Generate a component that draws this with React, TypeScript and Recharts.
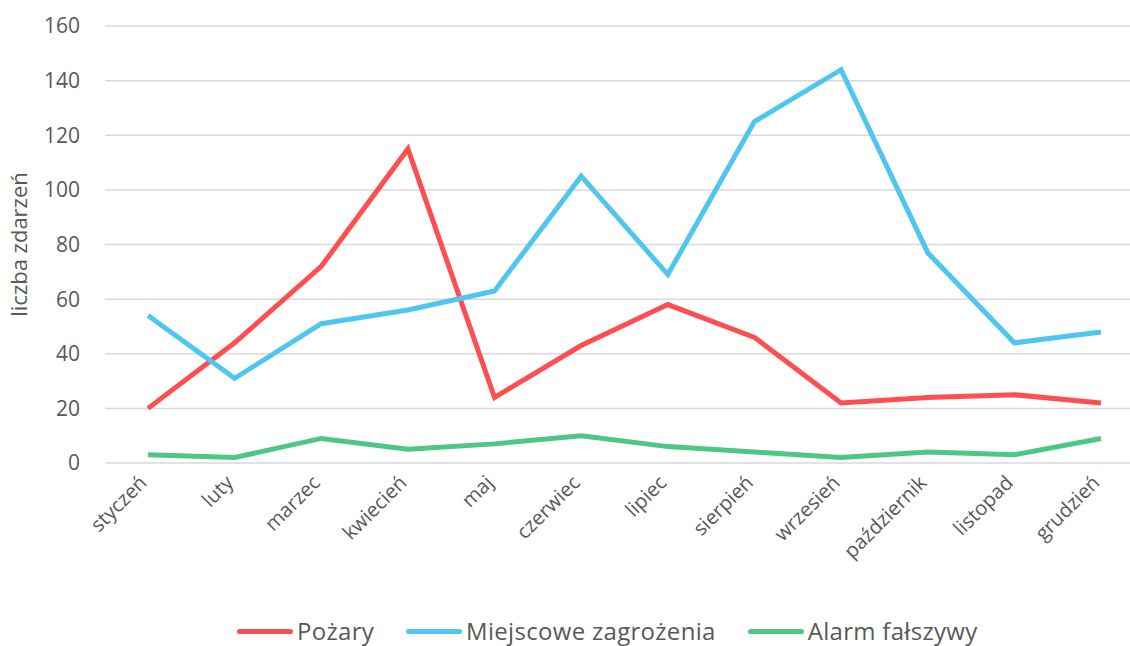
import { LineChart, Line, XAxis, YAxis, CartesianGrid, Legend } from 'recharts';

const months = [
  'styczeń',
  'luty',
  'marzec',
  'kwiecień',
  'maj',
  'czerwiec',
  'lipiec',
  'sierpień',
  'wrzesień',
  'październik',
  'listopad',
  'grudzień',
];

const pozary = [20, 44, 72, 115, 24, 43, 58, 46, 22, 24, 25, 22];
const miejscowe = [54, 31, 51, 56, 63, 105, 69, 125, 144, 77, 44, 48];
const alarm = [3, 2, 9, 5, 7, 10, 6, 4, 2, 4, 3, 9];

const yTicks = [0, 20, 40, 60, 80, 100, 120, 140, 160];

const series = [
  { key: 'pozary', name: 'Pożary', color: '#FF4E50' },
  { key: 'miejscowe', name: 'Miejscowe zagrożenia', color: '#4FC6F0' },
  { key: 'alarm', name: 'Alarm fałszywy', color: '#4CC784' },
];

const data = months.map((m, i) => ({
  month: m,
  pozary: pozary[i],
  miejscowe: miejscowe[i],
  alarm: alarm[i],
}));

const FONT = '"Open Sans", "Noto Sans", sans-serif';
const TEXT = '#595959';

const MonthTick = ({ x, y, payload }: any) => (
  <g transform={`translate(${x},${y + 21})`}>
    <text
      textAnchor="end"
      transform="rotate(-45)"
      fontSize={20}
      fontFamily={FONT}
      fill={TEXT}
    >
      {payload.value}
    </text>
  </g>
);

const LegendContent = () => (
  <div
    style={{
      display: 'flex',
      justifyContent: 'flex-start',
      alignItems: 'center',
      fontFamily: FONT,
      fontSize: 24,
      letterSpacing: 0.3,
      color: TEXT,
      lineHeight: '26px',
    }}
  >
    {series.map((s) => (
      <div
        key={s.key}
        style={{ display: 'flex', alignItems: 'center', marginRight: 32 }}
      >
        <div
          style={{
            width: 56,
            height: 5,
            borderRadius: 3,
            background: s.color,
            marginRight: 4,
          }}
        />
        <span>{s.name}</span>
      </div>
    ))}
  </div>
);

export default function App() {
  return (
    <div
      style={{
        position: 'fixed',
        left: 0,
        top: 0,
        width: 1130,
        height: 646,
        overflow: 'hidden',
        background: '#fff',
      }}
    >
      <LineChart
        width={1150}
        height={646}
        data={data}
        margin={{ top: 26, right: 6, bottom: 73, left: 0 }}
      >
        <CartesianGrid vertical={false} stroke="#d9d9d9" strokeWidth={1.5} />
        <XAxis
          dataKey="month"
          axisLine={false}
          tickLine={false}
          tickSize={0}
          tickMargin={0}
          height={110}
          interval={0}
          padding={{ left: 43, right: 43 }}
          tick={<MonthTick />}
        />
        <YAxis
          width={105}
          domain={[0, 160]}
          ticks={yTicks}
          axisLine={false}
          tickLine={false}
          tickSize={0}
          tickMargin={25}
          tick={{ fontSize: 21, fill: TEXT, fontFamily: FONT }}
          label={{
            value: 'liczba zdarzeń',
            angle: -90,
            position: 'insideLeft',
            dx: 14,
            style: {
              textAnchor: 'middle',
              fontSize: 22,
              fill: TEXT,
              fontFamily: FONT,
            },
          }}
        />
        <Legend
          verticalAlign="middle"
          align="center"
          layout="horizontal"
          content={<LegendContent />}
          wrapperStyle={{ top: 618, left: 237, width: 880 }}
        />
        {series.map((s) => (
          <Line
            key={s.key}
            type="linear"
            dataKey={s.key}
            name={s.name}
            stroke={s.color}
            strokeWidth={5}
            dot={false}
            activeDot={false}
            isAnimationActive={false}
          />
        ))}
      </LineChart>
    </div>
  );
}
